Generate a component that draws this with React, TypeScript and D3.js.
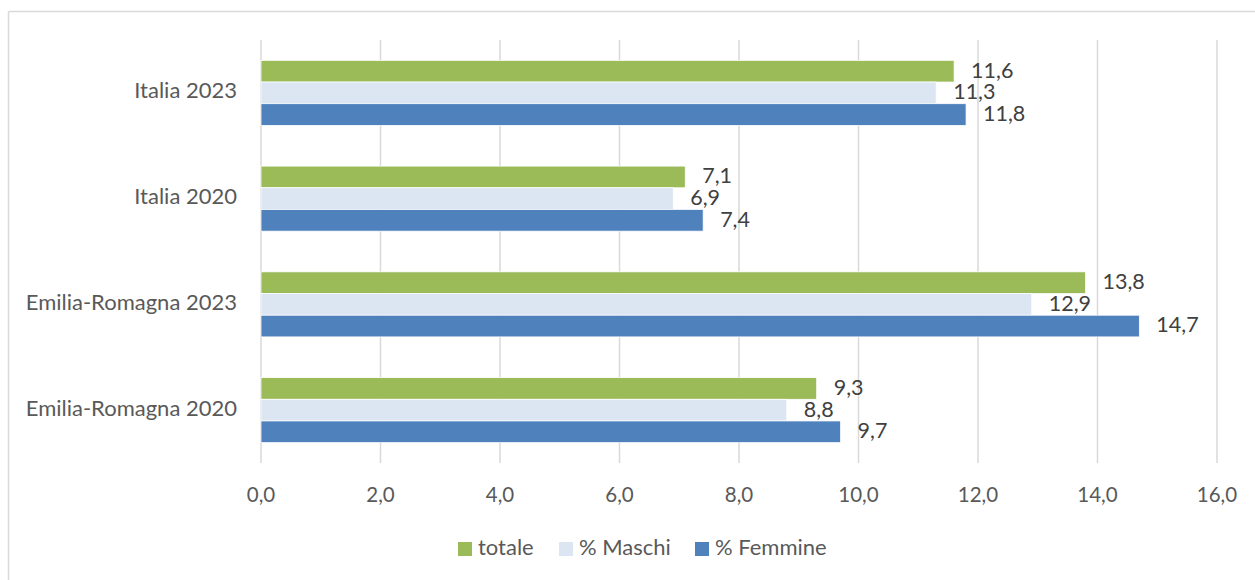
import { scaleBand, scaleLinear } from 'd3'

// Categorie dall'alto verso il basso, come nel grafico originale
const categories = ['Italia 2023', 'Italia 2020', 'Emilia-Romagna 2023', 'Emilia-Romagna 2020']
const seriesNames = ['totale', '% Maschi', '% Femmine']
const totale = [11.6, 7.1, 13.8, 9.3]
const maschi = [11.3, 6.9, 12.9, 8.8]
const femmine = [11.8, 7.4, 14.7, 9.7]
const xTicks = [0, 2, 4, 6, 8, 10, 12, 14, 16]

const COLORS = ['#9BBB59', '#DCE6F2', '#4F81BD']
const W = 1255
const H = 580
const PLOT = { left: 261, right: 1217, top: 40, bottom: 463 }
const FONT = 'Lato, "Open Sans", sans-serif'

const fmt = (v: number) => v.toFixed(1).replace('.', ',')

export default function App() {
  const values = [totale, maschi, femmine]
  const x = scaleLinear().domain([0, 16]).range([PLOT.left, PLOT.right])
  const y = scaleBand().domain(categories).range([PLOT.top, PLOT.bottom]).paddingInner(0.385).paddingOuter(0.1925)
  const sub = scaleBand().domain(seriesNames).range([0, y.bandwidth()])

  const legendX = [458, 559, 695]

  return (
    <svg width={W} height={H} style={{ position: 'absolute', left: 0, top: 0 }} fontFamily={FONT}>
      <rect x={0} y={0} width={W} height={H} fill="#fff" />
      <line x1={8.5} y1={11.5} x2={W} y2={11.5} stroke="#D9D9D9" strokeWidth={1.5} />
      <line x1={8.5} y1={11.5} x2={8.5} y2={H} stroke="#D9D9D9" strokeWidth={1.5} />

      {xTicks.map((t) => (
        <g key={t}>
          <line x1={x(t)} x2={x(t)} y1={PLOT.top} y2={PLOT.bottom} stroke="#D9D9D9" strokeWidth={1.5} />
          <text x={x(t)} y={497} textAnchor="middle" dominantBaseline="middle" fontSize={20.5} fill="#595959">
            {fmt(t)}
          </text>
        </g>
      ))}

      {categories.map((c, ci) => {
        const y0 = y(c) ?? 0
        return (
          <g key={c}>
            <text x={237} y={y0 + y.bandwidth() / 2} textAnchor="end" dominantBaseline="middle" fontSize={22} fill="#595959">
              {c}
            </text>
            {seriesNames.map((s, si) => {
              const v = values[si][ci]
              const by = y0 + (sub(s) ?? 0)
              return (
                <g key={s}>
                  <rect
                    x={x(0)}
                    y={by}
                    width={x(v) - x(0)}
                    height={sub.bandwidth()}
                    fill={COLORS[si]}
                    stroke="#fff"
                    strokeWidth={0.75}
                  />
                  <text x={x(v) + 17} y={by + sub.bandwidth() / 2 + 1} dominantBaseline="middle" fontSize={21.5} fill="#404040">
                    {fmt(v)}
                  </text>
                </g>
              )
            })}
          </g>
        )
      })}

      {seriesNames.map((s, si) => (
        <g key={s} transform={`translate(${legendX[si]}, 542)`}>
          <rect width={14} height={14} fill={COLORS[si]} />
          <text x={20} y={7.5} dominantBaseline="middle" fontSize={22} fill="#595959">
            {s}
          </text>
        </g>
      ))}
    </svg>
  )
}
